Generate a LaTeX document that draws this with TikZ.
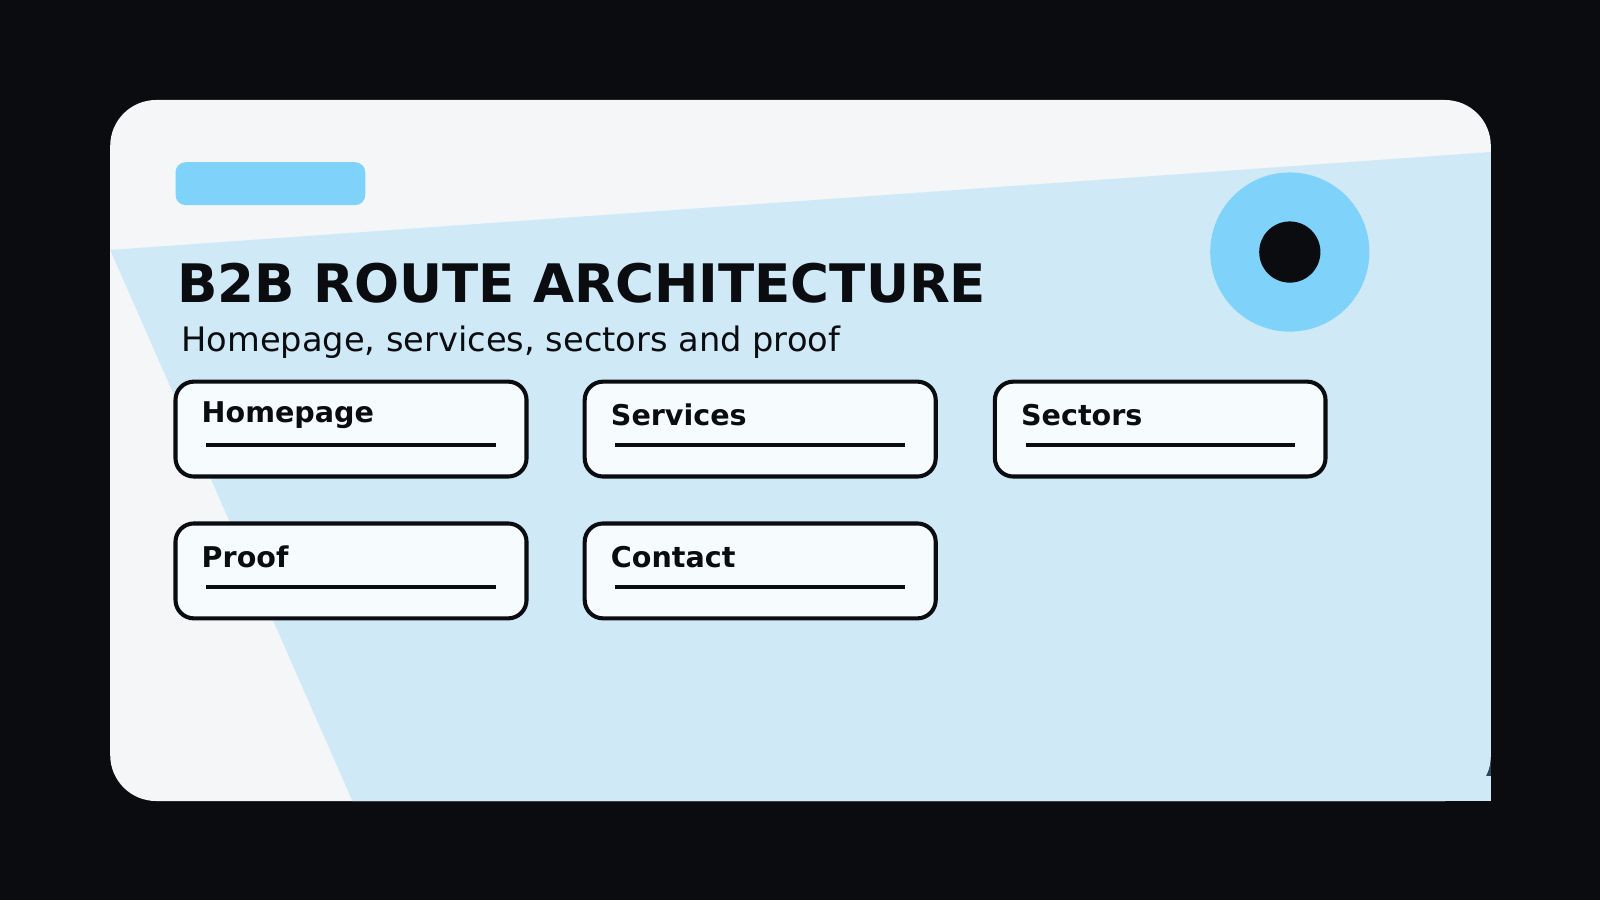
\documentclass[tikz,border=0pt]{standalone}
\usepackage{fontspec}
\setmainfont{DejaVu Sans}
\definecolor{pageBg}{HTML}{0A0C0F}
\definecolor{cardBg}{HTML}{F4F6F8}
\definecolor{skyBand}{HTML}{CFE9F7}
\definecolor{skyAccent}{HTML}{7FD3FB}
\definecolor{boxFill}{HTML}{F6FCFE}
\definecolor{slateCorner}{HTML}{2F4858}
\tikzset{every picture/.style={line width=0.75pt}}
\tikzset{
  route/.style={draw=pageBg, line width=4pt, fill=boxFill, rounded corners=18pt},
  routeLabel/.style={anchor=west, font=\bfseries\fontsize{28}{30}\selectfont, text=pageBg},
  routeRule/.style={line width=4pt, draw=pageBg}
}
\newcommand{\routeBox}[5]{% name, x, y, width, label
  \draw [route] (#2,#3) rectangle ++(#4,93) ;
  \node [routeLabel] (#1) at (#2+22,#3+33) {#5};
  \draw [routeRule] (#2+30,#3+62) -- ++(#4-60,0) ;
}

\begin{document}
\begin{tikzpicture}[x=1pt,y=1pt,yscale=-1,xscale=1]
\useasboundingbox (0,0) rectangle (1568,882);
\fill [pageBg] (0,0) rectangle (1568,882);

%Shape: corner patch
\fill [slateCorner] (1410,735) rectangle (1461,785);
%Shape: card
\fill [cardBg, rounded corners=45pt] (108,98) rectangle (1461,785);
%Shape: band
\begin{scope}
\clip [rounded corners=45pt] (108,98) rectangle (1461,785);
\fill [skyBand] (108,245) -- (1461,149) -- (1461,800) -- (352,800) -- cycle;
\end{scope}
\fill [skyBand] (1415,760) rectangle (1461,785);

%Shape: pill
\fill [skyAccent, rounded corners=10pt] (172,159) rectangle (358,201);
%Shape: ring
\fill [skyAccent] (1264,247) circle (78);
\fill [pageBg] (1264,247) circle (30);

% Text Node
\node [anchor=base west, font=\bfseries\fontsize{52}{56}\selectfont, text=pageBg] (title) at (170,296) {B2B ROUTE ARCHITECTURE};
% Text Node
\node [anchor=base west, font=\fontsize{33}{36}\selectfont, text=pageBg] (subtitle) at (174,344) {Homepage, services, sectors and proof};

\routeBox{home}{172}{374}{344}{Homepage}
\routeBox{services}{573}{374}{344}{Services}
\routeBox{sectors}{975}{374}{324}{Sectors}
\routeBox{proof}{172}{513}{344}{Proof}
\routeBox{contact}{573}{513}{344}{Contact}

\end{tikzpicture}
\end{document}
